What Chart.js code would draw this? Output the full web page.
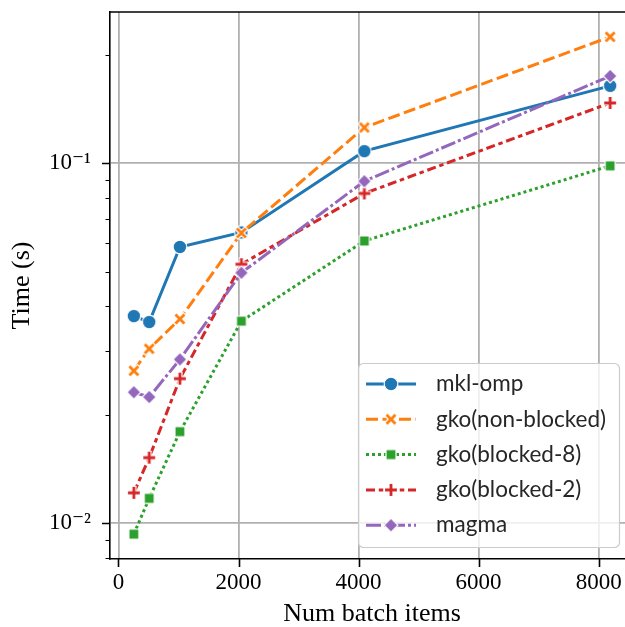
<!DOCTYPE html>
<html>
<head>
<meta charset="utf-8">
<style>
  html, body { margin: 0; padding: 0; overflow: hidden; background: #fff; }
</style>
</head>
<body>
<canvas id="chart" width="650" height="627"></canvas>

<script src="https://cdn.jsdelivr.net/npm/chart.js"></script>

<script>
/* ---------------- DATA ---------------- */
const batchItems = [256, 512, 1024, 2048, 4096, 8192];
const seriesNames = ['mkl-omp', 'gko(non-blocked)', 'gko(blocked-8)', 'gko(blocked-2)', 'magma'];
const mklOmp        = [0.0376, 0.0362, 0.0585, 0.0642, 0.108, 0.164];
const gkoNonBlocked = [0.0265, 0.0305, 0.0369, 0.0640, 0.1256, 0.2244];
const gkoBlocked8   = [0.00932, 0.01172, 0.01795, 0.0364, 0.0608, 0.0983];
const gkoBlocked2   = [0.01214, 0.0152, 0.0252, 0.0524, 0.0824, 0.147];
const magma         = [0.0231, 0.0224, 0.0285, 0.0496, 0.0891, 0.1746];

const xTicks = [0, 2000, 4000, 6000, 8000];
const yMajorTicks = [0.01, 0.1];
const yTickLabels = ['10\u207B\u00B2', '10\u207B\u00B9'];
const yMinorTicks = [0.008, 0.009, 0.02, 0.03, 0.04, 0.05, 0.06, 0.07, 0.08, 0.09, 0.2];

/* ---------------- MARKERS ---------------- */
function makeMarker(kind, color) {
  const c = document.createElement('canvas');
  c.width = 20; c.height = 20;
  const g = c.getContext('2d');
  g.translate(10, 10);
  g.beginPath();
  if (kind === 'circle') {
    g.arc(0, 0, 6.8, 0, Math.PI * 2);
  } else if (kind === 'square') {
    g.rect(-5, -5, 10, 10);
  } else if (kind === 'diamond') {
    g.moveTo(0, -7); g.lineTo(7, 0); g.lineTo(0, 7); g.lineTo(-7, 0); g.closePath();
  } else {
    // filled plus, rotated for the X
    const a = kind === 'x' ? 7 : 6.5, w = 2;
    if (kind === 'x') g.rotate(Math.PI / 4);
    const pts = [[-w,-a],[w,-a],[w,-w],[a,-w],[a,w],[w,w],[w,a],[-w,a],[-w,w],[-a,w],[-a,-w],[-w,-w]];
    pts.forEach((p, i) => i ? g.lineTo(p[0], p[1]) : g.moveTo(p[0], p[1]));
    g.closePath();
  }
  g.fillStyle = color;
  g.fill();
  g.lineWidth = 1.2;
  g.strokeStyle = '#fff';
  g.stroke();
  return c;
}

const styles = [
  { color: '#1f77b4', dash: [],              marker: 'circle'  },
  { color: '#ff7f0e', dash: [12, 4.5],       marker: 'x'       },
  { color: '#2ca02c', dash: [3, 3],          marker: 'square'  },
  { color: '#d62728', dash: [9, 3.75, 4.5, 3.75], marker: 'plus' },
  { color: '#9467bd', dash: [15, 3, 3, 3],   marker: 'diamond' }
];
const seriesValues = [mklOmp, gkoNonBlocked, gkoBlocked8, gkoBlocked2, magma];

const datasets = seriesNames.map((name, i) => ({
  label: name,
  data: batchItems.map((x, j) => ({ x: x, y: seriesValues[i][j] })),
  borderColor: styles[i].color,
  backgroundColor: styles[i].color,
  borderWidth: 3,
  borderDash: styles[i].dash,
  pointStyle: makeMarker(styles[i].marker, styles[i].color),
  pointRadius: 7,
  tension: 0,
  order: seriesNames.length - i
}));

/* ---------------- PLUGINS ---------------- */
const frameAndTicks = {
  id: 'frameAndTicks',
  afterDraw(chart) {
    const ctx = chart.ctx;
    const area = chart.chartArea;
    const xs = chart.scales.x, ys = chart.scales.y;
    ctx.save();
    ctx.strokeStyle = '#000';
    // top spine
    ctx.lineWidth = 1.6;
    ctx.beginPath();
    ctx.moveTo(area.left, area.top);
    ctx.lineTo(area.right, area.top);
    ctx.stroke();
    // major ticks
    ctx.beginPath();
    xTicks.forEach(v => {
      const px = Math.round(xs.getPixelForValue(v)) + 0.5;
      ctx.moveTo(px, area.bottom);
      ctx.lineTo(px, area.bottom + 8);
    });
    yMajorTicks.forEach(v => {
      const py = Math.round(ys.getPixelForValue(v)) + 0.5;
      ctx.moveTo(area.left, py);
      ctx.lineTo(area.left - 8, py);
    });
    ctx.stroke();
    // minor ticks
    ctx.lineWidth = 1.2;
    ctx.beginPath();
    yMinorTicks.forEach(v => {
      const py = Math.round(ys.getPixelForValue(v)) + 0.5;
      ctx.moveTo(area.left, py);
      ctx.lineTo(area.left - 4.5, py);
    });
    ctx.stroke();
    ctx.restore();
  }
};

const insideLegend = {
  id: 'insideLegend',
  afterDatasetsDraw(chart) {
    const ctx = chart.ctx;
    const area = chart.chartArea;
    const w = 261, h = 184;
    const left = area.right - 15 - w;
    const top = area.bottom - 12 - h;
    ctx.save();
    ctx.beginPath();
    ctx.roundRect(left + 0.5, top + 0.5, w, h, 5);
    ctx.fillStyle = 'rgba(255,255,255,0.8)';
    ctx.fill();
    ctx.strokeStyle = '#cccccc';
    ctx.lineWidth = 1.2;
    ctx.stroke();
    ctx.font = '22.5px Lato';
    ctx.textBaseline = 'middle';
    ctx.fillStyle = '#262626';
    seriesNames.forEach((name, i) => {
      const y = top + 21 + i * 35.3;
      const st = styles[i];
      ctx.strokeStyle = st.color;
      ctx.lineWidth = 3;
      ctx.setLineDash(st.dash);
      ctx.beginPath();
      ctx.moveTo(left + 8, y);
      ctx.lineTo(left + 58, y);
      ctx.stroke();
      ctx.setLineDash([]);
      const m = chart.data.datasets[i].pointStyle;
      ctx.drawImage(m, left + 33 - m.width / 2, y - m.height / 2);
      ctx.fillText(name, left + 78, y);
    });
    ctx.restore();
  }
};

/* ---------------- CHART ---------------- */
const serif = "'Liberation Serif', 'DejaVu Serif', serif";

function noPad(scale) {
  scale.paddingTop = 0;
  scale.paddingBottom = 0;
  scale.paddingLeft = 0;
  scale.paddingRight = 0;
}

new Chart(document.getElementById('chart').getContext('2d'), {
  type: 'line',
  data: { datasets: datasets },
  options: {
    responsive: false,
    animation: false,
    layout: { padding: { top: 12, right: 16, left: 0, bottom: 0 } },
    plugins: {
      legend: { display: false },
      tooltip: { enabled: false }
    },
    scales: {
      x: {
        type: 'linear',
        min: -141,
        max: 8589,
        afterBuildTicks: scale => { scale.ticks = xTicks.map(v => ({ value: v })); },
        afterFit: scale => { scale.height = 68; noPad(scale); },
        ticks: {
          color: '#000',
          font: { family: serif, size: 23 },
          padding: 10,
          maxRotation: 0,
          callback: v => String(v)
        },
        grid: {
          lineWidth: 1.8,
          drawTicks: false,
          color: c => (c.tick && xTicks.includes(c.tick.value)) ? '#b0b0b0' : 'rgba(0,0,0,0)'
        },
        border: { color: '#000', width: 1.6 },
        title: {
          display: true,
          text: 'Num batch items',
          color: '#000',
          font: { family: serif, size: 26, lineHeight: 1 },
          padding: { top: 0, bottom: 0 }
        }
      },
      y: {
        type: 'logarithmic',
        min: 0.00795,
        max: 0.263,
        afterBuildTicks: scale => {
          scale.ticks = yMajorTicks.concat(yMinorTicks).sort((a, b) => a - b).map(v => ({ value: v }));
        },
        afterFit: scale => { scale.width = 110; noPad(scale); },
        ticks: {
          color: '#000',
          font: { family: serif, size: 23 },
          padding: 19,
          autoSkip: false,
          callback: v => {
            const k = yMajorTicks.indexOf(v);
            return k >= 0 ? yTickLabels[k] : '';
          }
        },
        grid: {
          drawTicks: false,
          lineWidth: 1.8,
          color: c => (c.tick && yMajorTicks.includes(c.tick.value)) ? '#b0b0b0' : 'rgba(0,0,0,0)'
        },
        border: { color: '#000', width: 1.6 },
        title: {
          display: true,
          text: 'Time (s)',
          color: '#000',
          font: { family: serif, size: 26, lineHeight: 1 },
          padding: { top: 9, bottom: 0 }
        }
      }
    }
  },
  plugins: [insideLegend, frameAndTicks]
});
</script>
</body>
</html>
